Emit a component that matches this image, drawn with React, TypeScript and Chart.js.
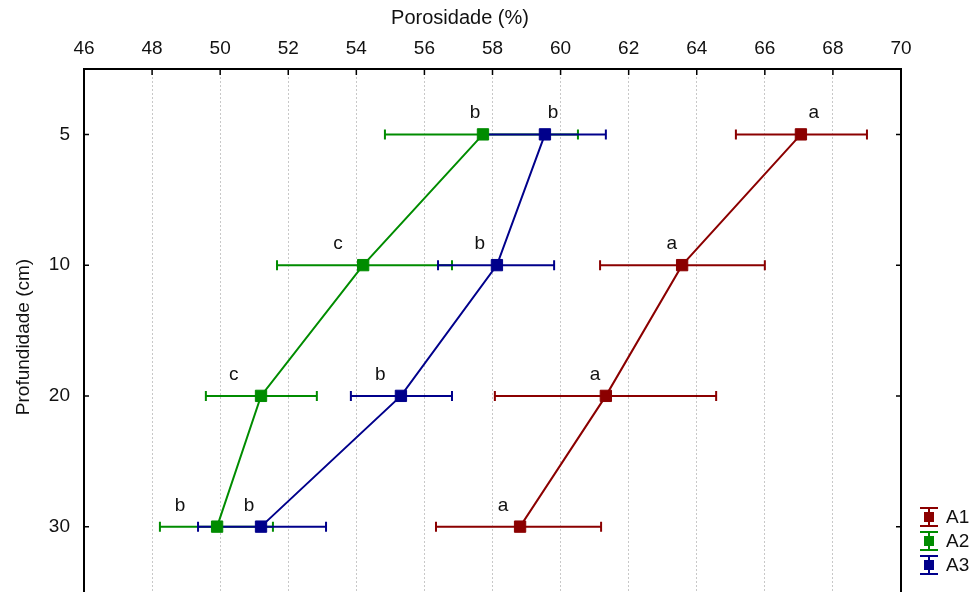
import React, { useEffect, useRef } from "react";
import { Chart, registerables } from "chart.js";

Chart.register(...registerables);

const depthLabels = ["5", "10", "20", "30"];
const xMin = 46;
const xMax = 70;
const xStep = 2;

const seriesNames = ["A1", "A2", "A3"];
const seriesColors = ["#8B0000", "#008C00", "#00008B"];

const a1Mean = [67.06, 63.57, 61.33, 58.81];
const a1Low = [65.15, 61.16, 58.07, 56.34];
const a1High = [69.0, 66.0, 64.57, 61.19];
const a1Letters = ["a", "a", "a", "a"];
const a1LetterAt = [67.44, 63.27, 61.01, 58.31];

const a2Mean = [57.72, 54.2, 51.2, 49.91];
const a2Low = [54.84, 51.67, 49.58, 48.23];
const a2High = [60.51, 56.81, 52.84, 51.55];
const a2Letters = ["b", "c", "c", "b"];
const a2LetterAt = [57.49, 53.46, 50.4, 48.82];

const a3Mean = [59.54, 58.13, 55.31, 51.2];
const a3Low = [57.78, 56.4, 53.84, 49.35];
const a3High = [61.33, 59.81, 56.81, 53.11];
const a3Letters = ["b", "b", "b", "b"];
const a3LetterAt = [59.78, 57.63, 54.7, 50.85];

const xTitle = "Porosidade (%)";
const yTitle = "Profundidade (cm)";

const FONT = "'Liberation Sans', Arial, sans-serif";

const means = [a1Mean, a2Mean, a3Mean];
const lows = [a1Low, a2Low, a3Low];
const highs = [a1High, a2High, a3High];
const letters = [a1Letters, a2Letters, a3Letters];
const letterAt = [a1LetterAt, a2LetterAt, a3LetterAt];

const overlayPlugin = {
  id: "overlay",
  beforeDatasetsDraw(chart: any) {
    const ctx = chart.ctx;
    const xs = chart.scales.x;
    const ys = chart.scales.y;
    ctx.save();
    for (let s = 0; s < means.length; s++) {
      ctx.strokeStyle = seriesColors[s];
      ctx.lineWidth = 2;
      for (let i = 0; i < depthLabels.length; i++) {
        const y = ys.getPixelForValue(i + 1);
        const x0 = xs.getPixelForValue(lows[s][i]);
        const x1 = xs.getPixelForValue(highs[s][i]);
        ctx.beginPath();
        ctx.moveTo(x0, y);
        ctx.lineTo(x1, y);
        ctx.moveTo(x0, y - 5);
        ctx.lineTo(x0, y + 5);
        ctx.moveTo(x1, y - 5);
        ctx.lineTo(x1, y + 5);
        ctx.stroke();
      }
    }
    ctx.restore();
  },
  afterDatasetsDraw(chart: any) {
    const ctx = chart.ctx;
    const xs = chart.scales.x;
    const ys = chart.scales.y;
    const { left, right, top, bottom } = chart.chartArea;
    ctx.save();
    // letters
    ctx.fillStyle = "#111";
    ctx.font = `19px ${FONT}`;
    ctx.textAlign = "center";
    ctx.textBaseline = "alphabetic";
    for (let s = 0; s < means.length; s++) {
      for (let i = 0; i < depthLabels.length; i++) {
        const y = ys.getPixelForValue(i + 1);
        const x = xs.getPixelForValue(letterAt[s][i]);
        ctx.fillText(letters[s][i], x, y - 16);
      }
    }
    // frame
    ctx.strokeStyle = "#000";
    ctx.lineWidth = 2;
    ctx.beginPath();
    ctx.moveTo(left, bottom + 2);
    ctx.lineTo(left, top);
    ctx.lineTo(right, top);
    ctx.lineTo(right, bottom + 2);
    ctx.stroke();
    // inward ticks
    ctx.lineWidth = 1.5;
    ctx.beginPath();
    for (let v = xMin; v <= xMax; v += xStep) {
      const x = xs.getPixelForValue(v);
      ctx.moveTo(x, top);
      ctx.lineTo(x, top + 6);
    }
    for (let i = 0; i < depthLabels.length; i++) {
      const y = ys.getPixelForValue(i + 1);
      ctx.moveTo(left, y);
      ctx.lineTo(left + 5, y);
      ctx.moveTo(right, y);
      ctx.lineTo(right - 5, y);
    }
    ctx.stroke();
    // titles
    ctx.fillStyle = "#111";
    ctx.font = `20px ${FONT}`;
    ctx.textAlign = "center";
    ctx.textBaseline = "middle";
    ctx.fillText(xTitle, 460, 18);
    ctx.font = `19px ${FONT}`;
    ctx.save();
    ctx.translate(24, 337);
    ctx.rotate(-Math.PI / 2);
    ctx.fillText(yTitle, 0, 0);
    ctx.restore();
    // legend
    ctx.font = `19px ${FONT}`;
    for (let s = 0; s < seriesNames.length; s++) {
      const cy = 517 + s * 24;
      const cx = 929;
      ctx.strokeStyle = seriesColors[s];
      ctx.fillStyle = seriesColors[s];
      ctx.lineWidth = 2;
      ctx.beginPath();
      ctx.moveTo(cx - 9, cy - 9);
      ctx.lineTo(cx + 9, cy - 9);
      ctx.moveTo(cx - 9, cy + 9);
      ctx.lineTo(cx + 9, cy + 9);
      ctx.moveTo(cx, cy - 9);
      ctx.lineTo(cx, cy + 9);
      ctx.stroke();
      ctx.fillRect(cx - 5, cy - 5, 10, 10);
      ctx.fillStyle = "#111";
      ctx.textAlign = "left";
      ctx.textBaseline = "middle";
      ctx.fillText(seriesNames[s], 946, cy + 1);
    }
    ctx.restore();
  },
};

export default function App() {
  const canvasRef = useRef<HTMLCanvasElement | null>(null);

  useEffect(() => {
    const canvas = canvasRef.current;
    if (!canvas) return;
    const datasets = means.map((m, s) => ({
      label: seriesNames[s],
      data: m.map((v, i) => ({ x: v, y: i + 1 })),
      showLine: true,
      borderColor: seriesColors[s],
      backgroundColor: seriesColors[s],
      borderWidth: 2,
      pointStyle: "rect",
      pointRadius: 8,
      pointBorderWidth: 1,
      pointBackgroundColor: seriesColors[s],
      pointBorderColor: seriesColors[s],
    }));
    const chart = new Chart(canvas, {
      type: "scatter",
      data: { datasets } as any,
      plugins: [overlayPlugin],
      options: {
        animation: false,
        responsive: true,
        maintainAspectRatio: false,
        layout: { autoPadding: false, padding: { left: 0, right: 76, top: 0, bottom: 0 } },
        plugins: {
          legend: { display: false },
          tooltip: { enabled: false },
        },
        scales: {
          x: {
            type: "linear",
            position: "top",
            min: xMin,
            max: xMax,
            ticks: {
              stepSize: xStep,
              color: "#111",
              font: { family: FONT, size: 19 },
              padding: 9,
              maxRotation: 0,
            },
            grid: {
              drawTicks: false,
              lineWidth: 1,
              color: (c: any) =>
                c.tick && (c.tick.value === xMin || c.tick.value === xMax)
                  ? "rgba(0,0,0,0)"
                  : "#c8c8c8",
            },
            border: { display: false, dash: [2, 2] },
            afterFit: (scale: any) => {
              scale.height = 69;
              scale.paddingLeft = 0;
              scale.paddingRight = 0;
            },
          },
          y: {
            type: "linear",
            reverse: true,
            min: 0.5,
            max: 4.5,
            afterBuildTicks: (scale: any) => {
              scale.ticks = depthLabels.map((_, i) => ({ value: i + 1 }));
            },
            ticks: {
              color: "#111",
              font: { family: FONT, size: 19 },
              padding: 14,
              callback: (v: any) => depthLabels[Number(v) - 1] ?? "",
            },
            grid: { display: false, drawTicks: false },
            border: { display: false },
            afterFit: (scale: any) => {
              scale.width = 84;
              scale.paddingTop = 0;
              scale.paddingBottom = 0;
            },
          },
        },
      } as any,
    });
    return () => chart.destroy();
  }, []);

  return (
    <div
      style={{
        position: "absolute",
        left: 0,
        top: 0,
        width: 977,
        height: 592,
        background: "#fff",
      }}
    >
      <canvas ref={canvasRef} style={{ display: "block" }} />
    </div>
  );
}
